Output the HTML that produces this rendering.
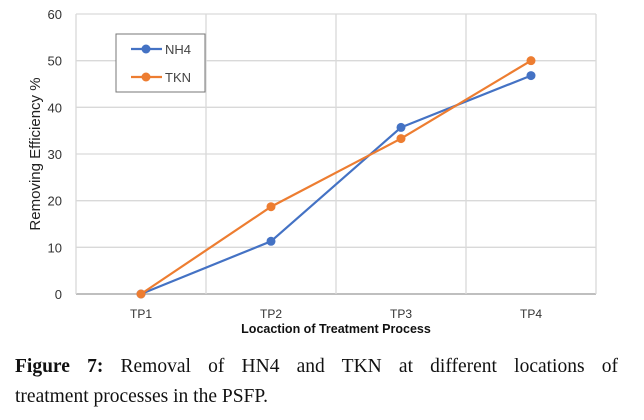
<!DOCTYPE html>
<html><head><meta charset="utf-8"><style>
body{margin:0;width:644px;height:420px;background:#fff;overflow:hidden;position:relative}
svg{position:absolute;left:0;top:0}
.cap{position:absolute;left:15px;width:603px;font-family:"Liberation Serif",serif;font-size:19.5px;color:#111;text-align:justify;text-align-last:justify;line-height:30px;white-space:nowrap}
</style></head><body>
<svg width="644" height="345" id="chart" font-family="Liberation Sans, sans-serif"></svg>
<div class="cap" style="top:352px"><b>Figure 7:</b> Removal of HN4 and TKN at different locations of</div>
<div class="cap" style="top:382px;text-align-last:left">treatment processes in the PSFP.</div>
<script>
const categories=["TP1","TP2","TP3","TP4"];
const nh4=[0,11.3,35.7,46.8];
const tkn=[0,18.7,33.3,50];
const yTicks=[0,10,20,30,40,50,60];
const NS="http://www.w3.org/2000/svg";
const svg=document.getElementById('chart');
const L=76,R=596,T=14,B=294,yMax=60;
const bw=(R-L)/categories.length;
const x=i=>L+bw*(i+0.5);
const y=v=>B-(v/yMax)*(B-T);
function mk(tag,attrs,parent){const e=document.createElementNS(NS,tag);for(const k in attrs)e.setAttribute(k,attrs[k]);(parent||svg).appendChild(e);return e;}
yTicks.forEach(t=>{
  const g=mk('line',{x1:L,x2:R,y1:y(t),y2:y(t),stroke:t===0?'#999':'#d9d9d9','stroke-width':1.3});
  
  
  const tx=mk('text',{x:L-14,y:y(t)+5,'text-anchor':'end','font-size':13,fill:'#333'});
  tx.textContent=t;
  
  
});
for(let i=0;i<=categories.length;i++){
  const g=mk('line',{x1:L+bw*i,x2:L+bw*i,y1:T,y2:B,stroke:'#d9d9d9','stroke-width':1.3});
  
  
}
categories.forEach((c,i)=>{
  const tx=mk('text',{x:x(i),y:B+24,'text-anchor':'middle','font-size':12,fill:'#333'});
  tx.textContent=c;
  
  
});
const xt=mk('text',{x:336,y:333,'text-anchor':'middle','font-size':12.5,'font-weight':'bold',fill:'#111'});
xt.textContent='Locaction of Treatment Process';


const yt=mk('text',{x:0,y:0,'text-anchor':'middle','font-size':15,fill:'#222',transform:`translate(40,${(T+B)/2}) rotate(-90)`});
yt.textContent='Removing Efficiency %';


function series(vals,color,name){
  const p=mk('polyline',{points:vals.map((v,i)=>x(i)+','+y(v)).join(' '),fill:'none',stroke:color,'stroke-width':2.2});
  
  
  vals.forEach((v,i)=>{
    const c=mk('circle',{cx:x(i),cy:y(v),r:4.5,fill:color});
    
    
  });
}
series(nh4,'#4472c4','nh4');
series(tkn,'#ed7d31','tkn');
const lg=mk('rect',{x:116,y:34,width:89,height:58,fill:'#fff',stroke:'#777','stroke-width':1});


[['NH4','#4472c4',49],['TKN','#ed7d31',77]].forEach(([n,c,yy])=>{
  const l=mk('line',{x1:131,x2:162,y1:yy,y2:yy,stroke:c,'stroke-width':2.2});
  
  
  const d=mk('circle',{cx:146,cy:yy,r:4.5,fill:c});
  
  
  const t=mk('text',{x:165,y:yy+5,'font-size':13,fill:'#444'});
  t.textContent=n;
  
  
});
</script>
</body></html>
